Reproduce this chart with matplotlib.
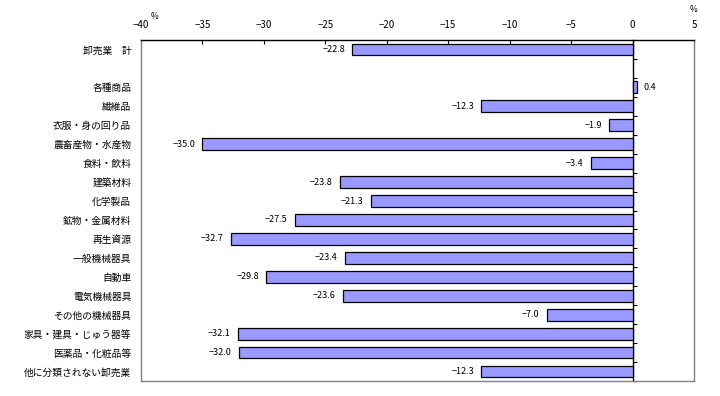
import matplotlib
matplotlib.use("Agg")
import matplotlib.pyplot as plt
from matplotlib.ticker import FuncFormatter

plt.rcParams["font.family"] = ["Noto Sans CJK JP", "DejaVu Sans"]

# data (None = empty spacer row)
categories = [
    "卸売業　計", "", "各種商品", "繊維品", "衣服・身の回り品", "農畜産物・水産物",
    "食料・飲料", "建築材料", "化学製品", "鉱物・金属材料", "再生資源",
    "一般機械器具", "自動車", "電気機械器具", "その他の機械器具",
    "家具・建具・じゅう器等", "医薬品・化粧品等", "他に分類されない卸売業",
]
values = [
    -22.8, None, 0.4, -12.3, -1.9, -35.0, -3.4, -23.8, -21.3, -27.5, -32.7,
    -23.4, -29.8, -23.6, -7.0, -32.1, -32.0, -12.3,
]
x_ticks = [-40, -35, -30, -25, -20, -15, -10, -5, 0, 5]

BAR_COLOR = "#9999FF"
GRAY = "#808080"


def fmt_minus(v):
    s = f"{v:.1f}"
    return s.replace("-", "\u2212")


def main():
    fig = plt.figure(figsize=(7.2, 3.96), dpi=100)
    ax = fig.add_axes((141 / 720, 1 - 381 / 396, 553 / 720, 341 / 396))

    n = len(categories)
    ypos = list(range(n))
    for y, v in zip(ypos, values):
        if v is None:
            continue
        ax.barh(y, v, height=0.62, color=BAR_COLOR, edgecolor="black", linewidth=0.9)
        if v < 0:
            ax.text(v - 0.6, y, fmt_minus(v), ha="right", va="center", fontsize=6.5)
        else:
            ax.text(v + 0.5, y, fmt_minus(v), ha="left", va="center", fontsize=6.5)

    xmin, xmax = x_ticks[0], x_ticks[-1]
    ax.set_xlim(xmin, xmax)
    ax.set_ylim(n - 0.5, -0.5)

    ax.xaxis.tick_top()
    ax.set_xticks(x_ticks)
    ax.xaxis.set_major_formatter(FuncFormatter(lambda v, p: f"{v:.0f}".replace("-", "\u2212")))
    ax.tick_params(axis="x", direction="in", length=3, width=0.8, pad=7, labelsize=7)

    ax.set_yticks(ypos)
    ax.set_yticklabels(categories)
    ax.tick_params(axis="y", length=0, pad=7, labelsize=7)

    ax.spines["top"].set_color("black")
    ax.spines["top"].set_linewidth(1.0)
    for side in ("left", "right", "bottom"):
        ax.spines[side].set_color(GRAY)
        ax.spines[side].set_linewidth(1.0)

    # zero line with small tick marks at row boundaries
    zero = ax.secondary_yaxis((0 - xmin) / (xmax - xmin))
    zero.set_yticks([i + 0.5 for i in range(-1, n)])
    zero.tick_params(axis="y", direction="out", length=3, width=0.8, labelright=False,
                     colors="black")
    zero.spines["right"].set_color("black")
    zero.spines["right"].set_linewidth(1.0)

    ax.text(0.025, 1.055, "%", transform=ax.transAxes, fontsize=6, ha="center", va="bottom")
    ax.text(1.0, 1.075, "%", transform=ax.transAxes, fontsize=6, ha="center", va="bottom")

    fig.savefig("out.png", dpi=100)
    plt.close(fig)


if __name__ == "__main__":
    main()
